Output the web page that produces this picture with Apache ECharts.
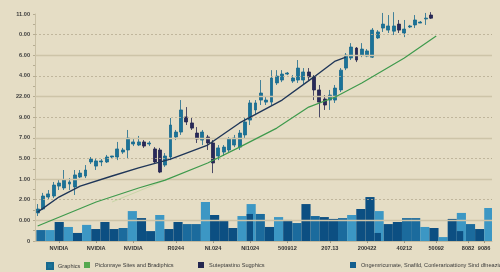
<!DOCTYPE html>
<html><head><meta charset="utf-8">
<script src="https://cdn.jsdelivr.net/npm/echarts@6/dist/echarts.min.js"></script>
<style>html,body{margin:0;padding:0;background:#e5ddc5}#c{width:500px;height:272px}</style>
</head><body><div id="c"></div>
<script>
// y tick labels, from value 0 upward
const yTickLabels = ['0','0.00','2.00','1.00','5.00','7.00','9.00','22.00','4.00','6.00','0.00','11.00'];
// x-axis labels and the category index where each appears
const xLabels = ['NVIDIA','NVIDIA','NVIDIA','R0244','NI.024','NI1024','500912','207.13','200422','40212','50092','8082','9086'];
const xLabelIdx = [4,11,18,26,33,40,47,55,62,69,75,81,84];
const categoryCount = 86;
// candles: [open, close, low, high]
const candles = [
[1.36,1.55,1.21,1.79],[1.55,2.18,1.50,2.33],[2.13,2.28,2.03,2.47],[2.18,2.71,2.08,2.86],[2.66,2.81,2.47,3.00],
[2.57,2.96,2.47,3.44],[2.76,2.86,2.47,3.05],[2.62,3.20,2.23,3.44],[3.10,3.29,3.05,3.44],[3.15,3.44,3.05,3.68],
[3.83,3.97,3.73,4.07],[3.63,3.88,3.44,4.02],[3.83,3.88,3.63,3.97],[3.83,4.07,3.78,4.17],[4.07,4.12,4.02,4.12],
[4.07,4.46,3.92,4.80],[4.31,4.41,4.22,4.51],[4.41,4.99,4.02,5.38],[4.70,4.80,4.60,4.99],[4.65,4.80,4.60,5.09],
[4.80,4.60,4.51,4.89],[4.70,4.75,4.60,4.84],[4.46,3.83,3.73,4.55],[4.41,3.34,3.29,4.51],[3.68,4.12,3.59,4.26],
[4.07,5.62,3.92,5.96],[5.04,5.28,4.89,5.38],[5.28,6.35,5.14,6.83],[6.01,5.77,5.62,6.49],[5.72,5.47,5.38,5.96],
[5.23,4.94,4.75,5.52],[4.89,5.28,4.65,5.38],[5.04,4.75,4.41,5.14],[4.75,3.78,3.29,4.89],[4.12,4.51,3.92,4.65],
[4.31,4.55,4.12,4.65],[4.41,4.94,4.31,5.04],[4.65,4.99,4.55,5.14],[4.55,5.23,4.41,5.38],[5.14,5.77,4.99,5.96],
[5.86,6.69,5.62,6.83],[6.35,6.69,6.10,6.83],[6.83,7.17,6.59,7.80],[6.73,6.83,6.59,6.98],[6.73,7.90,6.59,8.28],
[7.66,7.99,7.56,8.28],[7.80,8.09,7.70,8.28],[8.09,8.14,8.04,8.19],[7.75,7.90,7.66,8.04],[7.80,8.38,7.66,8.77],
[7.80,8.19,7.56,8.38],[8.19,7.95,7.80,8.38],[7.95,7.32,6.83,8.04],[7.32,6.73,5.96,7.56],[6.88,6.59,6.35,7.07],
[6.83,7.07,6.35,7.32],[6.83,7.41,6.69,7.56],[7.32,8.28,7.22,8.38],[8.38,9.01,8.28,9.11],[8.87,9.40,8.77,9.59],
[9.35,8.77,8.67,9.40],[9.01,9.30,8.91,9.59],[8.96,9.21,8.91,9.30],[8.91,10.22,8.87,10.32],[9.84,10.13,9.79,10.22],
[10.32,10.51,10.13,11.05],[10.22,10.42,10.08,10.95],[10.17,10.42,9.98,11.09],[10.51,10.22,10.08,10.71],[10.08,10.27,9.88,10.71],
[10.37,10.42,10.32,10.47],[10.47,10.71,10.32,10.95],[10.56,10.61,10.56,10.66],[10.76,10.80,10.47,11.05],[10.95,10.80,10.76,11.09]
];
// trend lines: [category index, value]
const navyLine = [[0,1.40],[4,2.13],[8,2.66],[14,3.15],[19,3.54],[25,3.97],[32,4.65],[38,5.72],[46,6.83],[52,7.95],[56,8.72],[58,8.91]];
const greenLine = [[0,0.73],[11,1.89],[19,2.57],[24,2.95],[32,3.78],[38,4.55],[45,5.47],[51,6.49],[56,6.98],[61,7.66],[69,8.87],[75,9.93]];
const paleLine = [[14,1.89],[25,3.05]];
// volume bars
const volumes = [0.53,0.53,0.92,0.68,0.39,0.78,0.58,0.92,0.58,0.63,
1.45,1.11,0.48,1.26,0.58,0.92,0.82,0.82,1.89,1.26,
0.97,0.63,1.21,1.79,1.31,0.68,1.16,1.02,0.87,1.79,
1.21,1.16,1.07,1.11,1.26,1.55,2.13,1.45,0.82,0.92,
1.11,1.11,0.68,0.63,0.19,1.07,1.36,0.82,0.58,1.60];
const volumeShade = [1,2,0,2,0,2,0,0,0,1,2,0,0,2,0,0,1,1,2,0,0,0,2,2,1,0,2,0,1,0,1,0,0,1,2,0,0,2,0,0,1,1,2,0,2,0,2,1,0,2];
const volumeInner = [null,null,null,null,null,null,null,null,null,null,null,null,null,null,null,null,null,null,null,null,
null,null,null,1.31,null,null,null,null,null,null,null,null,null,null,null,null,null,0.39,null,null,
null,null,null,null,null,null,0.48,null,null,null];
const gridSolid = [1,3,5,7,9];
const gridDashed = [2,4,6,8,10];

const shadeColors = ['#0c4f82','#1b6b9d','#3c97c4'];
const cats = Array.from({length: categoryCount}, (_, i) => 'c' + i);
const barCats = volumes.map((_, i) => 'b' + i);
const FONT = 'Liberation Sans';

const markData = gridSolid.map(v => ({yAxis: v, lineStyle: {type: 'solid', color: '#cdc4a8', width: 1.3}}))
  .concat(gridDashed.map(v => ({yAxis: v, lineStyle: {type: [2, 2], color: '#b7ad92', width: 0.8}})));

const chart = echarts.init(document.getElementById('c'), null, {renderer: 'canvas'});
const legendBase = {top: 257, itemWidth: 6, itemHeight: 6, itemGap: 4, icon: 'rect',
  textStyle: {fontSize: 5.6, color: '#3a3a3a', fontFamily: FONT}};
chart.setOption({
  backgroundColor: '#e5ddc5',
  animation: false,
  grid: {left: 35, right: 8, top: 14, bottom: 31},
  legend: [
    Object.assign({left: 41, data: ['Graphics']}, legendBase),
    Object.assign({left: 79, data: ['Piclonraye Sites and Bradiphics']}, legendBase),
    Object.assign({left: 193, data: ['Suteptastino Sugphics']}, legendBase),
    Object.assign({left: 345, data: ['Ongemricumate, Snafild, Conlerarioattiony Sind dfneazio']}, legendBase)
  ],
  xAxis: [{
    type: 'category', data: cats, boundaryGap: true,
    axisLine: {lineStyle: {color: '#c3baa0', width: 1}},
    axisTick: {show: true, length: 2, interval: i => xLabelIdx.includes(i), alignWithLabel: true, lineStyle: {color: '#9c9580'}},
    axisLabel: {interval: i => xLabelIdx.includes(i), formatter: (v, i) => { const k = xLabelIdx.indexOf(i); return k >= 0 ? xLabels[k] : ''; },
      fontSize: 5.6, color: '#333', fontWeight: 'bold', fontFamily: FONT, margin: 4},
    splitLine: {show: false}
  }, {
    type: 'category', data: barCats, show: false, boundaryGap: true
  }],
  yAxis: {
    type: 'value', min: 0, max: 11, interval: 1,
    axisLine: {show: true, lineStyle: {color: '#c8bfa4'}},
    axisTick: {show: true, length: 2, inside: false, lineStyle: {color: '#b5ac93'}},
    minorTick: {show: true, splitNumber: 2, length: 2, lineStyle: {color: '#b5ac93'}},
    splitLine: {show: false},
    axisLabel: {formatter: v => yTickLabels[v] || '', fontSize: 5.6, color: '#3c3c3c', fontWeight: 'bold', fontFamily: FONT, margin: 5}
  },
  series: [
    {type: 'line', name: 'grid', data: [], z: 1, silent: true,
      markLine: {silent: true, symbol: 'none', label: {show: false}, data: markData, animation: false}},
    {type: 'bar', name: 'Ongemricumate, Snafild, Conlerarioattiony Sind dfneazio', xAxisIndex: 1, z: 2,
      data: volumes.map((v, i) => ({value: v, itemStyle: {color: shadeColors[volumeShade[i]]}})),
      barWidth: '100%', barGap: '-100%', itemStyle: {color: '#135e8e'}},
    {type: 'bar', name: 'Ongemricumate, Snafild, Conlerarioattiony Sind dfneazio', xAxisIndex: 1, z: 3,
      data: volumeInner, barWidth: '70%', barGap: '-100%', itemStyle: {color: '#0c4f82'}},
    {type: 'candlestick', name: 'Graphics', xAxisIndex: 0, z: 4, clip: false, barWidth: 3.4,
      data: candles,
      itemStyle: {color: '#1b7398', color0: '#28295a', borderColor: '#18698e', borderColor0: '#23244f', borderWidth: 0.8}},
    {type: 'line', name: 'Suteptastino Sugphics', z: 5, data: navyLine, showSymbol: false, symbol: 'none',
      lineStyle: {color: '#1f3658', width: 1.4}, itemStyle: {color: '#232650'}},
    {type: 'line', name: 'Piclonraye Sites and Bradiphics', z: 5, data: greenLine, showSymbol: false, symbol: 'none',
      lineStyle: {color: '#3e9a4c', width: 1.2}, itemStyle: {color: '#55a84f'}},
    {type: 'line', name: 'pale', z: 4, data: paleLine, showSymbol: false, symbol: 'none',
      lineStyle: {color: '#c9d6a8', width: 1}}
  ]
});
</script></body></html>
